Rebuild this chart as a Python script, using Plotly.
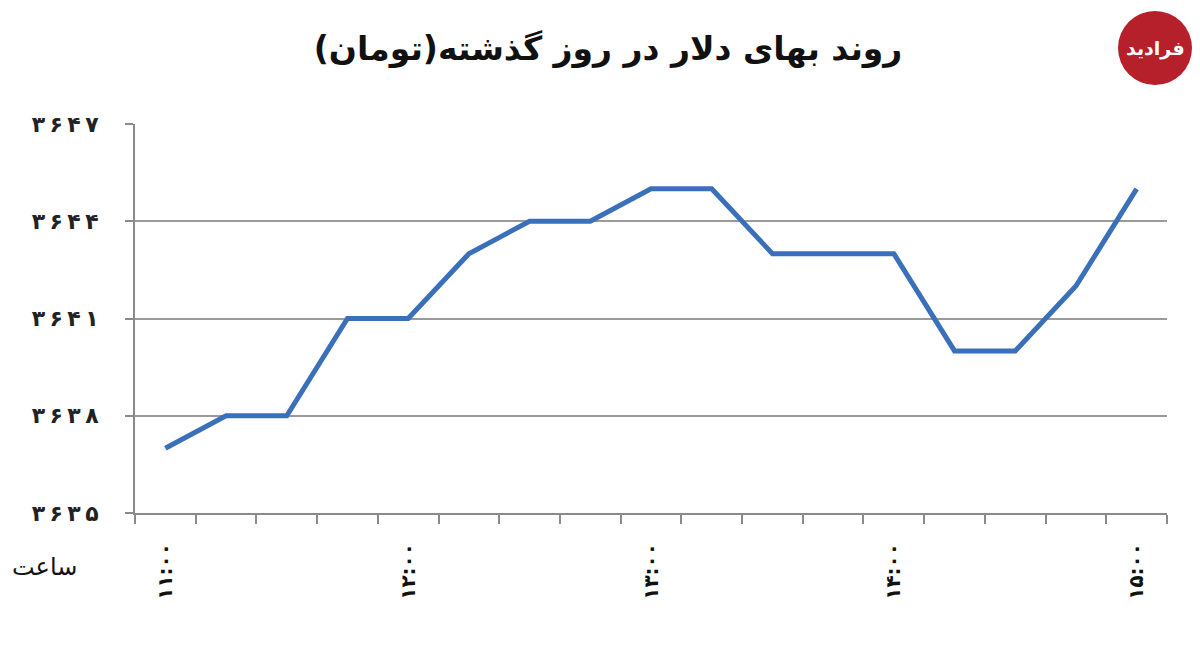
import plotly.graph_objects as go

# Data
times = ["11:00", "11:15", "11:30", "11:45", "12:00", "12:15", "12:30", "12:45",
         "13:00", "13:15", "13:30", "13:45", "14:00", "14:15", "14:30", "14:45", "15:00"]
prices = [3637, 3638, 3638, 3641, 3641, 3643, 3644, 3644, 3645, 3645,
          3643, 3643, 3643, 3640, 3640, 3642, 3645]
x_label_idx = [0, 4, 8, 12, 16]
x_label_text = ["۱۱:۰۰", "۱۲:۰۰", "۱۳:۰۰", "۱۴:۰۰", "۱۵:۰۰"]
y_tick_vals = [3635, 3638, 3641, 3644, 3647]
y_tick_text = ["۳\u2009۶\u2009۳\u2009۵", "۳\u2009۶\u2009۳\u2009۸", "۳\u2009۶\u2009۴\u2009۱",
               "۳\u2009۶\u2009۴\u2009۴", "۳\u2009۶\u2009۴\u2009۷"]
title_text = "روند بهای دلار در روز گذشته(تومان)"

FONT = "DejaVu Sans"

fig = go.Figure()
fig.add_trace(go.Scatter(
    x=list(range(len(times))), y=prices, mode="lines",
    line=dict(color="#3a6fba", width=5),
    hoverinfo="skip", showlegend=False,
))

fig.update_layout(
    width=1200, height=660,
    margin=dict(l=127, r=41, t=116, b=155),
    paper_bgcolor="white", plot_bgcolor="white",
    title=dict(text="<b>" + title_text + "</b>", x=0.5, xanchor="center", y=0.939, yanchor="middle",
               font=dict(family=FONT, size=33, color="#111")),
    xaxis=dict(
        range=[-0.5, len(times) - 0.5],
        tickmode="array", tickvals=x_label_idx, ticktext=["<b>" + t + "</b>" for t in x_label_text],
        tickangle=-90, ticks="", showgrid=False, zeroline=False,
        showline=True, linecolor="#8a8a8a", linewidth=2,
        tickfont=dict(family=FONT, size=20, color="#111"),
        ticklabelstandoff=20,
        minor=dict(tick0=-0.5, dtick=1, ticks="outside", ticklen=9,
                   tickcolor="#8a8a8a", tickwidth=2, showgrid=False),
    ),
    yaxis=dict(
        range=[3635, 3647],
        tickmode="array", tickvals=y_tick_vals, ticktext=["<b>" + t + "</b>" for t in y_tick_text],
        ticks="outside", ticklen=8, tickcolor="#8a8a8a", tickwidth=2,
        showline=True, linecolor="#8a8a8a", linewidth=2,
        showgrid=True, gridcolor="#9a9a9a", gridwidth=1.5,
        zeroline=False,
        tickfont=dict(family=FONT, size=22, color="#222"),
        ticklabelstandoff=22,
    ),
)

# "ساعت" axis label
fig.add_annotation(text="ساعت", xref="paper", yref="paper",
                   x=(44 - 135) / 1032, y=(513 - 567) / 389,
                   xanchor="center", yanchor="middle", showarrow=False,
                   font=dict(family=FONT, size=24, color="#111"))

# Logo
fig.add_shape(type="circle", xref="paper", yref="paper",
              x0=(1118 - 135) / 1032, x1=(1192 - 135) / 1032,
              y0=(513 - 85) / 389, y1=(513 - 11) / 389,
              fillcolor="#b5202a", line=dict(width=0))
fig.add_annotation(text="<b>فرادید</b>", xref="paper", yref="paper",
                   x=(1155 - 135) / 1032, y=(513 - 48) / 389,
                   xanchor="center", yanchor="middle", showarrow=False,
                   font=dict(family=FONT, size=19, color="white"))

fig.write_html("out.html")
